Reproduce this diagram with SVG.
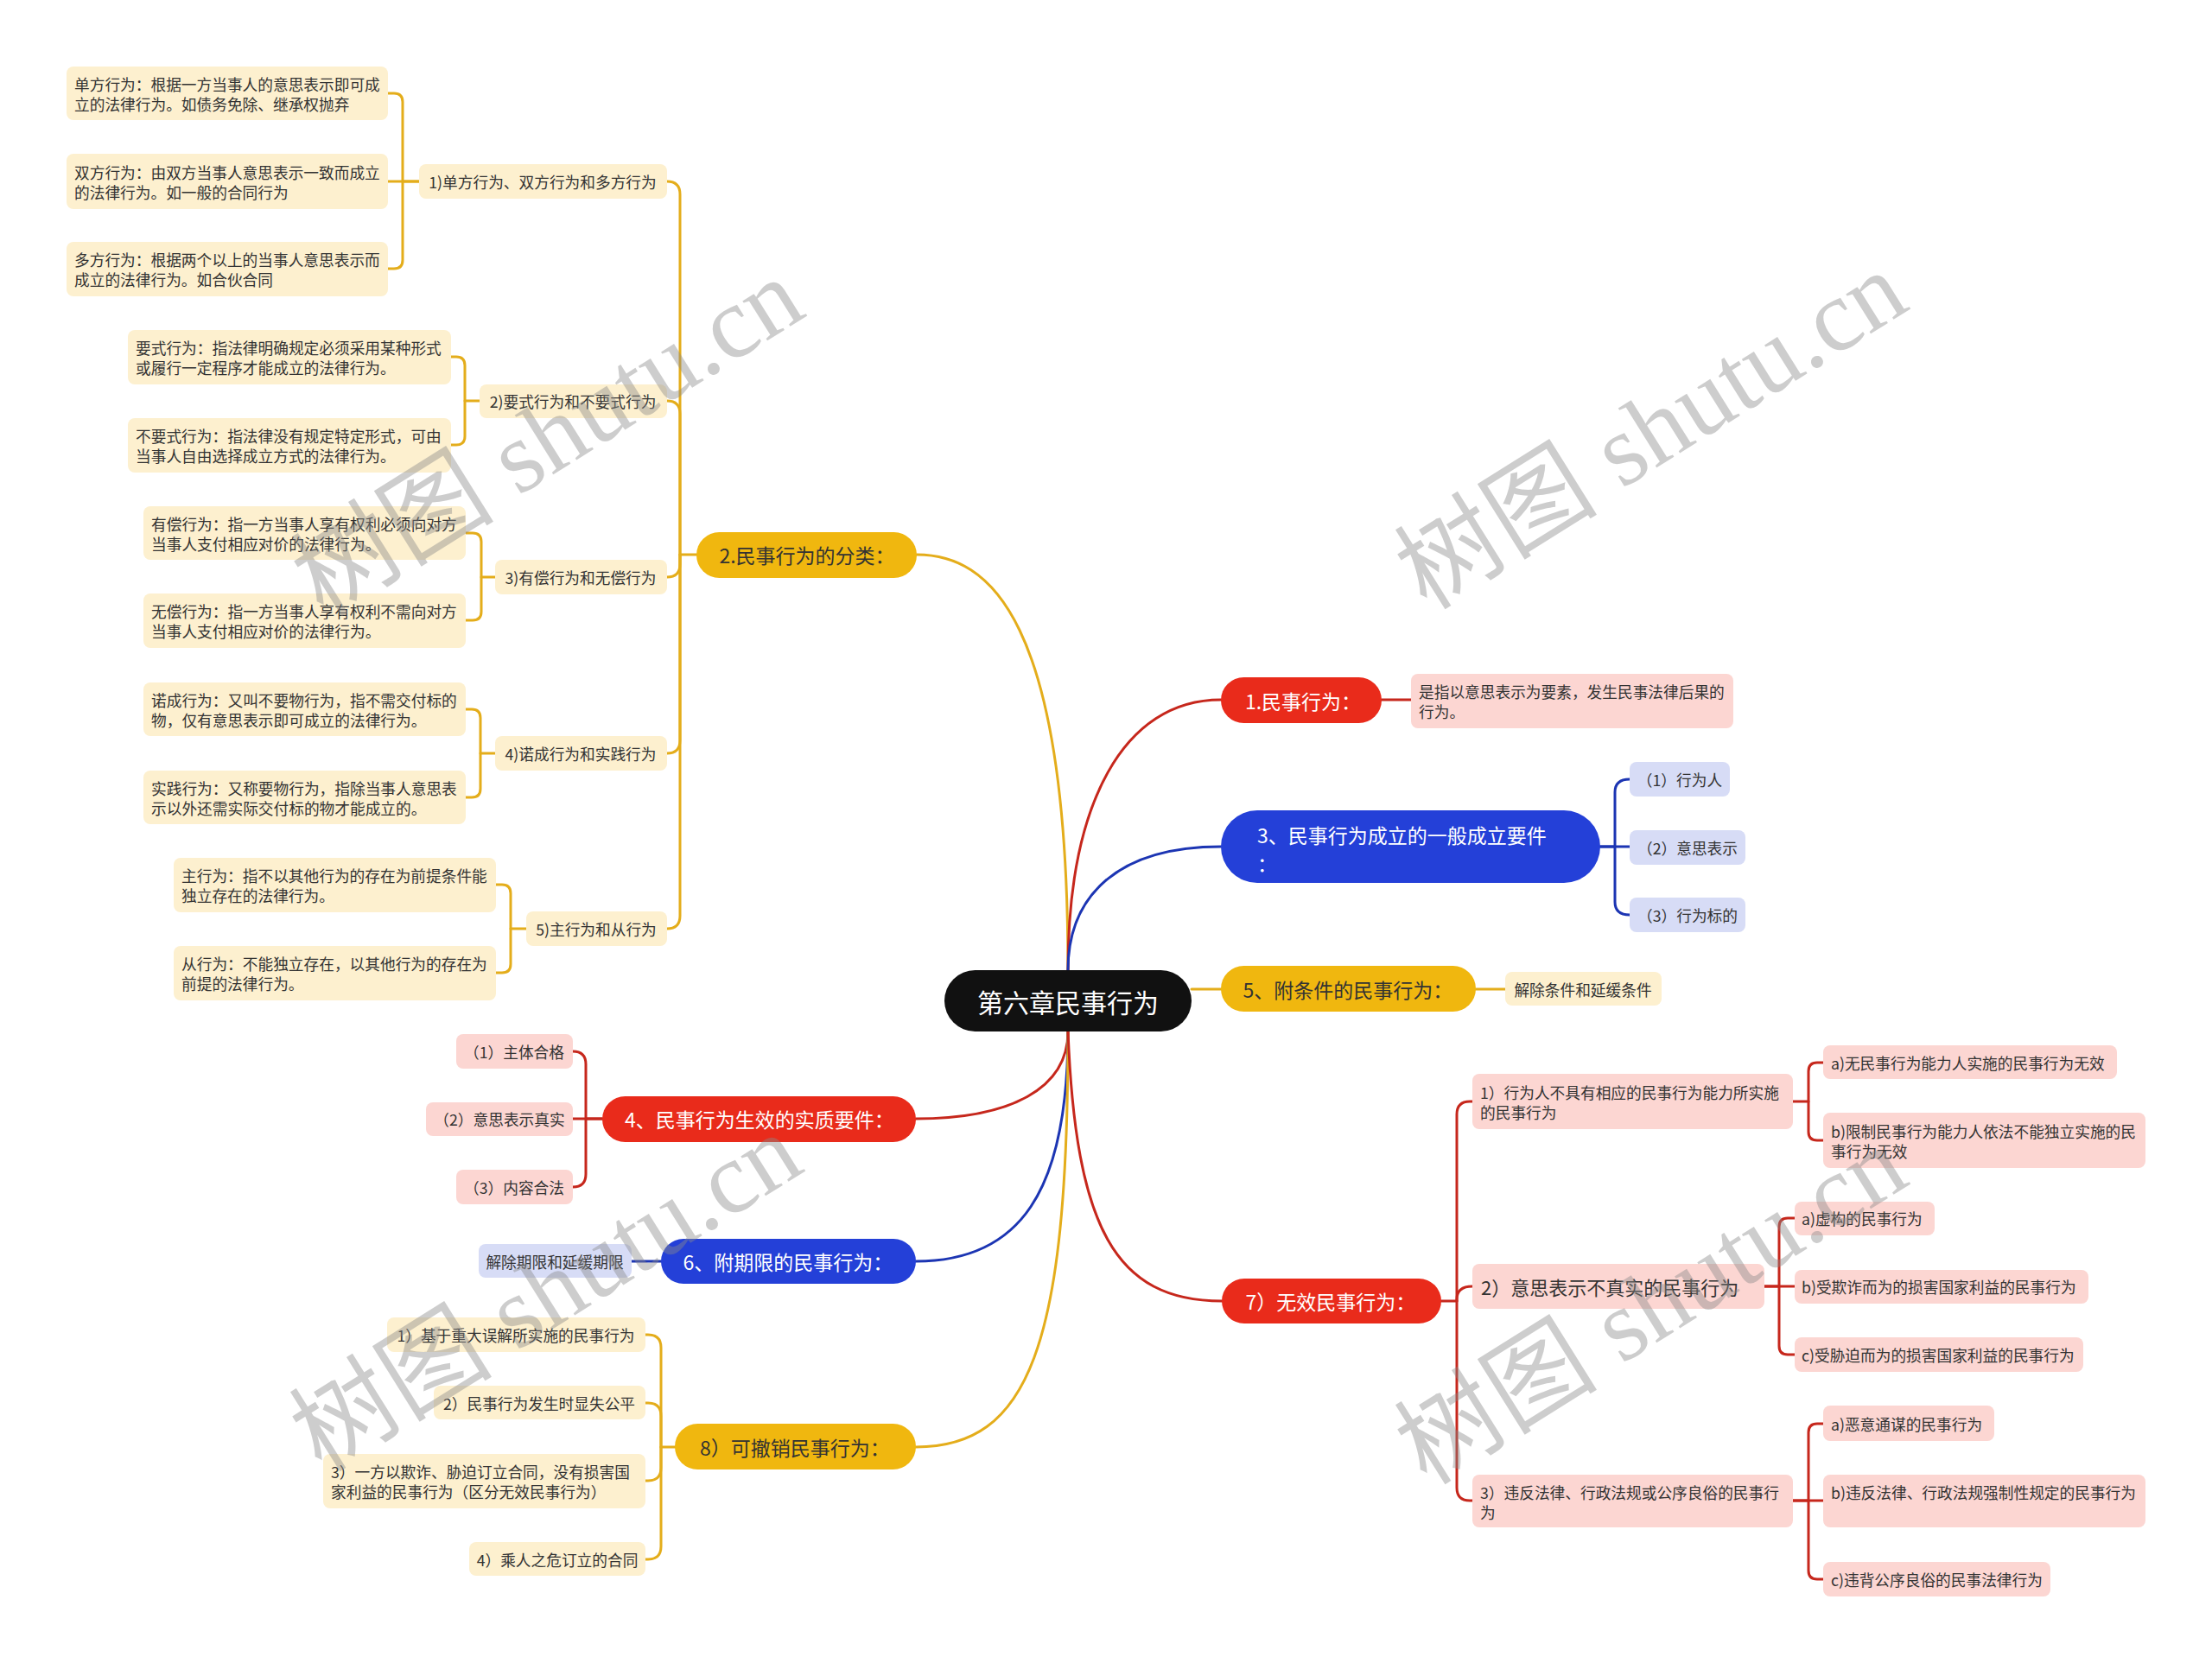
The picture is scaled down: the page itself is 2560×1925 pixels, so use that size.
<svg xmlns="http://www.w3.org/2000/svg" width="2560" height="1925" viewBox="0 0 2560 1925">
<style>
text{font-family:"Noto Sans CJK SC","Noto Sans",sans-serif;dominant-baseline:central}
.s{font-size:17.7px;fill:#333}
.s22{font-size:22px;fill:#333}
.m{font-size:23px}
.c{text-anchor:middle}
.w{fill:#fff}
.d{fill:#333}
.pk{fill:#fcd6d2}
.cr{fill:#fdf0cf}
.lb{fill:#d7dcf6}
.red{fill:#e92b1b}
.blue{fill:#2440d8}
.gold{fill:#f0b70f}
#connectors path{fill:none;stroke-width:3;stroke-linecap:round;stroke-linejoin:round}
.r{stroke:#c6271c}
.b{stroke:#1c35b3}
.g{stroke:#e4ad1b}
.wm{font-family:"Liberation Serif","Noto Sans CJK SC",serif;font-size:118px;fill:#8a8a8a;opacity:.42;text-anchor:middle;dominant-baseline:alphabetic}
</style>
<rect width="2560" height="1925" fill="#fff"/>

<g id="connectors">
  <path class="g" d="M1061 642 C1145 642 1236 715 1236 1123"/>
  <path class="r" d="M1236 1123 C1236 930 1300 810 1413 810"/>
  <path class="b" d="M1236 1123 C1236 1040 1290 980 1413 980"/>
  <path class="g" d="M1379 1145 H1413"/>
  <path class="r" d="M1236 1194 C1236 1260 1170 1295 1060 1295"/>
  <path class="b" d="M1236 1194 C1236 1380 1180 1460 1060 1460"/>
  <path class="g" d="M1236 1194 C1236 1560 1190 1675 1060 1675"/>
  <path class="r" d="M1236 1194 C1245 1420 1290 1506 1414 1506"/>
  <path class="r" d="M1599 810 H1633"/>
  <path class="b" d="M1886 902 Q1869 902 1869 917 V980 H1852"/>
  <path class="b" d="M1886 980 H1852"/>
  <path class="b" d="M1886 1059 Q1869 1059 1869 1044 V980"/>
  <path class="g" d="M1708 1145 H1742"/>
  <path class="r" d="M1704 1275 H1701 Q1686 1275 1686 1290 V1506 H1668"/>
  <path class="r" d="M1704 1489 Q1686 1489 1686 1504 V1506"/>
  <path class="r" d="M1704 1737 H1701 Q1686 1737 1686 1722 V1506"/>
  <path class="r" d="M2110 1230 H2103 Q2093 1230 2093 1240 V1275 H2075"/>
  <path class="r" d="M2110 1320 H2103 Q2093 1320 2093 1310 V1275"/>
  <path class="r" d="M2077 1410 H2069 Q2059 1410 2059 1420 V1489 H2042"/>
  <path class="r" d="M2077 1489 H2042"/>
  <path class="r" d="M2077 1568 H2069 Q2059 1568 2059 1558 V1489"/>
  <path class="r" d="M2110 1648 H2103 Q2093 1648 2093 1658 V1737 H2075"/>
  <path class="r" d="M2110 1737 H2075"/>
  <path class="r" d="M2110 1828 H2103 Q2093 1828 2093 1818 V1737"/>
  <path class="g" d="M772 210 Q787 210 787 225 V642 H806"/>
  <path class="g" d="M772 464 Q787 464 787 479 V642"/>
  <path class="g" d="M772 668 Q787 668 787 653 V642"/>
  <path class="g" d="M772 872 Q787 872 787 857 V642"/>
  <path class="g" d="M772 1075 Q787 1075 787 1060 V642"/>
  <path class="g" d="M449 108 H456 Q466 108 466 118 V210 H485"/>
  <path class="g" d="M449 210 H485"/>
  <path class="g" d="M449 311 H456 Q466 311 466 301 V210"/>
  <path class="g" d="M522 413 H528 Q538 413 538 423 V464 H555"/>
  <path class="g" d="M522 515 H528 Q538 515 538 505 V464"/>
  <path class="g" d="M539 617 H547 Q557 617 557 627 V668 H573"/>
  <path class="g" d="M539 718 H547 Q557 718 557 708 V668"/>
  <path class="g" d="M539 821 H546 Q556 821 556 831 V872 H573"/>
  <path class="g" d="M539 923 H546 Q556 923 556 913 V872"/>
  <path class="g" d="M574 1024 H581 Q591 1024 591 1034 V1075 H609"/>
  <path class="g" d="M574 1126 H581 Q591 1126 591 1116 V1075"/>
  <path class="r" d="M663 1217 Q678 1217 678 1232 V1295 H697"/>
  <path class="r" d="M663 1295 H697"/>
  <path class="r" d="M663 1374 Q678 1374 678 1359 V1295"/>
  <path class="b" d="M731 1460 H765"/>
  <path class="g" d="M747 1545 H750 Q765 1545 765 1560 V1675 H781"/>
  <path class="g" d="M747 1624 H750 Q765 1624 765 1639 V1675"/>
  <path class="g" d="M747 1714 H750 Q765 1714 765 1699 V1675"/>
  <path class="g" d="M747 1805 H750 Q765 1805 765 1790 V1675"/>
</g>

<g id="root">
  <rect x="1093" y="1123" width="286" height="71" rx="35.5" fill="#111"/>
  <text x="1236" y="1159" class="c w" font-size="30">第六章民事行为</text>
</g>

<g id="n1">
  <rect x="1413" y="784" width="186" height="53" rx="26.5" class="red"/>
  <text x="1508" y="811" class="c w m">1.民事行为：</text>
</g>
<g id="n1a">
  <rect x="1633" y="780" width="373" height="63" rx="8" class="pk"/>
  <text class="s"><tspan x="1642" y="800">是指以意思表示为要素，发生民事法律后果的</tspan><tspan x="1642" y="823">行为。</tspan></text>
</g>

<g id="n3">
  <rect x="1413" y="938" width="439" height="84" rx="42" class="blue"/>
  <text class="w m"><tspan x="1455" y="966">3、民事行为成立的一般成立要件</tspan><tspan x="1455" y="999">：</tspan></text>
</g>
<g id="n3a"><rect x="1886" y="882" width="116" height="40" rx="8" class="lb"/><text x="1944" y="902" class="c s">（1）行为人</text></g>
<g id="n3b"><rect x="1886" y="961" width="134" height="40" rx="8" class="lb"/><text x="1953" y="981" class="c s">（2）意思表示</text></g>
<g id="n3c"><rect x="1886" y="1039" width="134" height="40" rx="8" class="lb"/><text x="1953" y="1059" class="c s">（3）行为标的</text></g>

<g id="n5">
  <rect x="1413" y="1118" width="295" height="53" rx="26.5" class="gold"/>
  <text x="1560" y="1145" class="c d m">5、附条件的民事行为：</text>
</g>
<g id="n5a"><rect x="1742" y="1125" width="181" height="39" rx="8" class="cr"/><text x="1832" y="1145" class="c s">解除条件和延缓条件</text></g>

<g id="n7">
  <rect x="1414" y="1480" width="254" height="52" rx="26" class="red"/>
  <text x="1540" y="1506" class="c w m">7）无效民事行为：</text>
</g>
<g id="n7-1">
  <rect x="1704" y="1243" width="371" height="64" rx="8" class="pk"/>
  <text class="s"><tspan x="1713" y="1264">1）行为人不具有相应的民事行为能力所实施</tspan><tspan x="1713" y="1287">的民事行为</tspan></text>
</g>
<g id="n7-1a"><rect x="2110" y="1210" width="340" height="39" rx="8" class="pk"/><text x="2119" y="1230" class="s">a)无民事行为能力人实施的民事行为无效</text></g>
<g id="n7-1b">
  <rect x="2110" y="1288" width="373" height="64" rx="8" class="pk"/>
  <text class="s"><tspan x="2119" y="1309">b)限制民事行为能力人依法不能独立实施的民</tspan><tspan x="2119" y="1332">事行为无效</tspan></text>
</g>
<g id="n7-2">
  <rect x="1704" y="1463" width="338" height="52" rx="8" class="pk"/>
  <text x="1714" y="1489" class="s22">2）意思表示不真实的民事行为</text>
</g>
<g id="n7-2a"><rect x="2077" y="1391" width="162" height="39" rx="8" class="pk"/><text x="2085" y="1410" class="s">a)虚构的民事行为</text></g>
<g id="n7-2b"><rect x="2077" y="1470" width="340" height="39" rx="8" class="pk"/><text x="2085" y="1489" class="s">b)受欺诈而为的损害国家利益的民事行为</text></g>
<g id="n7-2c"><rect x="2077" y="1548" width="334" height="40" rx="8" class="pk"/><text x="2085" y="1568" class="s">c)受胁迫而为的损害国家利益的民事行为</text></g>
<g id="n7-3">
  <rect x="1704" y="1707" width="371" height="61" rx="8" class="pk"/>
  <text class="s"><tspan x="1713" y="1727">3）违反法律、行政法规或公序良俗的民事行</tspan><tspan x="1713" y="1750">为</tspan></text>
</g>
<g id="n7-3a"><rect x="2110" y="1627" width="198" height="41" rx="8" class="pk"/><text x="2119" y="1648" class="s">a)恶意通谋的民事行为</text></g>
<g id="n7-3b"><rect x="2110" y="1707" width="373" height="61" rx="8" class="pk"/><text x="2119" y="1727" class="s">b)违反法律、行政法规强制性规定的民事行为</text></g>
<g id="n7-3c"><rect x="2110" y="1808" width="263" height="40" rx="8" class="pk"/><text x="2119" y="1828" class="s">c)违背公序良俗的民事法律行为</text></g>

<g id="n2">
  <rect x="806" y="616" width="255" height="53" rx="26.5" class="gold"/>
  <text x="934" y="642" class="c d m">2.民事行为的分类：</text>
</g>
<g id="n2-1"><rect x="485" y="190" width="287" height="40" rx="8" class="cr"/><text x="628" y="210" class="c s">1)单方行为、双方行为和多方行为</text></g>
<g id="n2-1a"><rect x="77" y="77" width="372" height="62" rx="8" class="cr"/><text class="s"><tspan x="86" y="97">单方行为：根据一方当事人的意思表示即可成</tspan><tspan x="86" y="120">立的法律行为。如债务免除、继承权抛弃</tspan></text></g>
<g id="n2-1b"><rect x="77" y="178" width="372" height="64" rx="8" class="cr"/><text class="s"><tspan x="86" y="199">双方行为：由双方当事人意思表示一致而成立</tspan><tspan x="86" y="222">的法律行为。如一般的合同行为</tspan></text></g>
<g id="n2-1c"><rect x="77" y="280" width="372" height="63" rx="8" class="cr"/><text class="s"><tspan x="86" y="300">多方行为：根据两个以上的当事人意思表示而</tspan><tspan x="86" y="323">成立的法律行为。如合伙合同</tspan></text></g>
<g id="n2-2"><rect x="555" y="445" width="217" height="39" rx="8" class="cr"/><text x="663" y="464" class="c s">2)要式行为和不要式行为</text></g>
<g id="n2-2a"><rect x="148" y="382" width="374" height="63" rx="8" class="cr"/><text class="s"><tspan x="157" y="402">要式行为：指法律明确规定必须采用某种形式</tspan><tspan x="157" y="425">或履行一定程序才能成立的法律行为。</tspan></text></g>
<g id="n2-2b"><rect x="148" y="484" width="374" height="63" rx="8" class="cr"/><text class="s"><tspan x="157" y="504">不要式行为：指法律没有规定特定形式，可由</tspan><tspan x="157" y="527">当事人自由选择成立方式的法律行为。</tspan></text></g>
<g id="n2-3"><rect x="573" y="648" width="199" height="40" rx="8" class="cr"/><text x="672" y="668" class="c s">3)有偿行为和无偿行为</text></g>
<g id="n2-3a"><rect x="166" y="586" width="373" height="62" rx="8" class="cr"/><text class="s"><tspan x="175" y="605.5">有偿行为：指一方当事人享有权利必须向对方</tspan><tspan x="175" y="628.5">当事人支付相应对价的法律行为。</tspan></text></g>
<g id="n2-3b"><rect x="166" y="687" width="373" height="63" rx="8" class="cr"/><text class="s"><tspan x="175" y="707">无偿行为：指一方当事人享有权利不需向对方</tspan><tspan x="175" y="730">当事人支付相应对价的法律行为。</tspan></text></g>
<g id="n2-4"><rect x="573" y="852" width="199" height="40" rx="8" class="cr"/><text x="672" y="872" class="c s">4)诺成行为和实践行为</text></g>
<g id="n2-4a"><rect x="166" y="790" width="373" height="62" rx="8" class="cr"/><text class="s"><tspan x="175" y="809.5">诺成行为：又叫不要物行为，指不需交付标的</tspan><tspan x="175" y="832.5">物，仅有意思表示即可成立的法律行为。</tspan></text></g>
<g id="n2-4b"><rect x="166" y="892" width="373" height="62" rx="8" class="cr"/><text class="s"><tspan x="175" y="911.5">实践行为：又称要物行为，指除当事人意思表</tspan><tspan x="175" y="934.5">示以外还需实际交付标的物才能成立的。</tspan></text></g>
<g id="n2-5"><rect x="609" y="1055" width="163" height="40" rx="8" class="cr"/><text x="690" y="1075" class="c s">5)主行为和从行为</text></g>
<g id="n2-5a"><rect x="201" y="993" width="373" height="63" rx="8" class="cr"/><text class="s"><tspan x="210" y="1013">主行为：指不以其他行为的存在为前提条件能</tspan><tspan x="210" y="1036">独立存在的法律行为。</tspan></text></g>
<g id="n2-5b"><rect x="201" y="1095" width="373" height="63" rx="8" class="cr"/><text class="s"><tspan x="210" y="1115">从行为：不能独立存在，以其他行为的存在为</tspan><tspan x="210" y="1138">前提的法律行为。</tspan></text></g>

<g id="n4">
  <rect x="697" y="1269" width="363" height="53" rx="26.5" class="red"/>
  <text x="879" y="1295" class="c w m">4、民事行为生效的实质要件：</text>
</g>
<g id="n4a"><rect x="528" y="1197" width="135" height="40" rx="8" class="pk"/><text x="595" y="1217" class="c s">（1）主体合格</text></g>
<g id="n4b"><rect x="493" y="1276" width="170" height="39" rx="8" class="pk"/><text x="578" y="1295" class="c s">（2）意思表示真实</text></g>
<g id="n4c"><rect x="528" y="1354" width="135" height="40" rx="8" class="pk"/><text x="595" y="1374" class="c s">（3）内容合法</text></g>

<g id="n6">
  <rect x="765" y="1434" width="295" height="52" rx="26" class="blue"/>
  <text x="912" y="1460" class="c w m">6、附期限的民事行为：</text>
</g>
<g id="n6a"><rect x="554" y="1440" width="177" height="39" rx="8" class="lb"/><text x="642" y="1460" class="c s">解除期限和延缓期限</text></g>

<g id="n8">
  <rect x="781" y="1648" width="279" height="53" rx="26.5" class="gold"/>
  <text x="920" y="1675" class="c d m">8）可撤销民事行为：</text>
</g>
<g id="n8a"><rect x="448" y="1525" width="299" height="40" rx="8" class="cr"/><text x="597" y="1545" class="c s">1）基于重大误解所实施的民事行为</text></g>
<g id="n8b"><rect x="502" y="1604" width="245" height="39" rx="8" class="cr"/><text x="624" y="1624" class="c s">2）民事行为发生时显失公平</text></g>
<g id="n8c"><rect x="374" y="1683" width="373" height="63" rx="8" class="cr"/><text class="s"><tspan x="383" y="1703">3）一方以欺诈、胁迫订立合同，没有损害国</tspan><tspan x="383" y="1726">家利益的民事行为（区分无效民事行为）</tspan></text></g>
<g id="n8d"><rect x="543" y="1785" width="204" height="39" rx="8" class="cr"/><text x="645" y="1805" class="c s">4）乘人之危订立的合同</text></g>

<g id="watermark">
  <text class="wm" transform="translate(655 540) rotate(-32)">树图 shutu.cn</text>
  <text class="wm" transform="translate(1932 532) rotate(-32)">树图 shutu.cn</text>
  <text class="wm" transform="translate(653 1530) rotate(-32)">树图 shutu.cn</text>
  <text class="wm" transform="translate(1932 1545) rotate(-32)">树图 shutu.cn</text>
</g>
</svg>
